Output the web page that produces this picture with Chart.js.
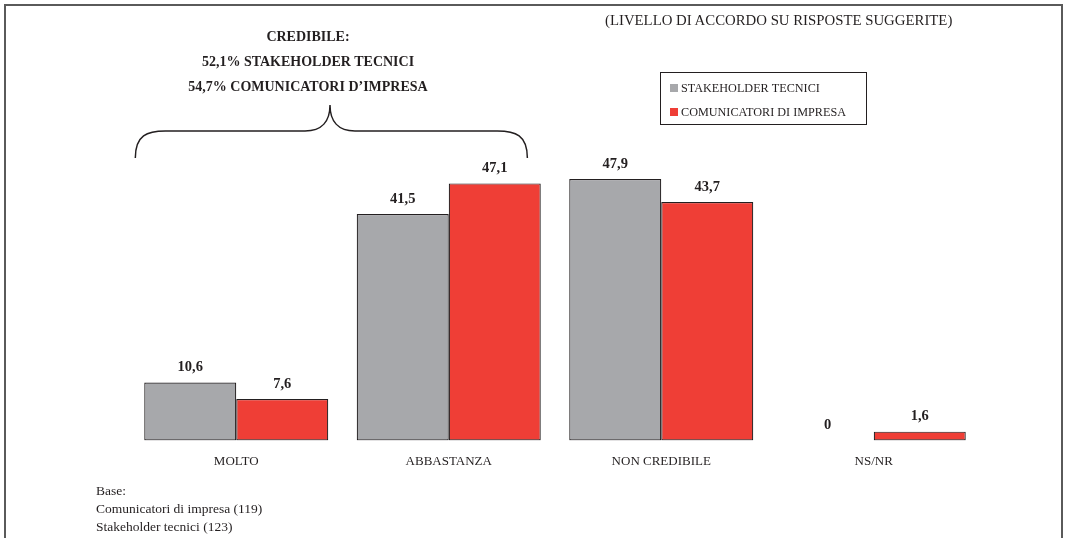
<!DOCTYPE html>
<html>
<head>
<meta charset="utf-8">
<script src="https://cdn.jsdelivr.net/npm/chart.js@4.4.1/dist/chart.umd.min.js"></script>
<style>
  html, body { margin: 0; padding: 0; background: #fff; }
  body { width: 1065px; height: 538px; position: relative; overflow: hidden; font-family: "Liberation Serif", "Times New Roman", serif; color: #231f20; }
  #frame { position: absolute; left: 4px; top: 4px; width: 1059px; height: 540px; border: 2px solid #5a5a5a; border-bottom: none; box-sizing: border-box; }
  #wrap { position: absolute; left: 0; top: 0; width: 1065px; height: 538px; }
  .note { position: absolute; white-space: nowrap; }
  .head { left: 160px; width: 296px; text-align: center; font-weight: bold; font-size: 14px; }
  .base { left: 96px; font-size: 13.5px; line-height: 18px; top: 482px; }
</style>
</head>
<body>
<div id="wrap"><canvas id="chart" width="1065" height="538"></canvas></div>
<div id="frame"></div>

<div class="note head" style="top:29px">CREDIBILE:</div>
<div class="note head" style="top:54px">52,1% STAKEHOLDER TECNICI</div>
<div class="note head" style="top:79px">54,7% COMUNICATORI D’IMPRESA</div>
<div class="note" style="left:605px; top:12px; font-size:14.8px">(LIVELLO DI ACCORDO SU RISPOSTE SUGGERITE)</div>
<div class="note base">Base:<br>Comunicatori di impresa (119)<br>Stakeholder tecnici (123)</div>

<script>
// ---- data ----
const categories = ['MOLTO', 'ABBASTANZA', 'NON CREDIBILE', 'NS/NR'];
const stakeholderTecnici = [10.6, 41.5, 47.9, 0];
const comunicatoriImpresa = [7.6, 47.1, 43.7, 1.6];
const seriesNames = ['STAKEHOLDER TECNICI', 'COMUNICATORI DI IMPRESA'];

const GREY = '#a7a8ab';
const RED = '#ef3e36';
const EDGE = '#231f20';

const fmt = v => String(v).replace('.', ',');

// value labels above every bar
const valueLabels = {
  id: 'valueLabels',
  afterDatasetsDraw(chart) {
    const ctx = chart.ctx;
    ctx.save();
    ctx.font = 'bold 14.5px "Liberation Serif"';
    ctx.fillStyle = '#231f20';
    ctx.textAlign = 'center';
    ctx.textBaseline = 'middle';
    chart.data.datasets.forEach((ds, i) => {
      chart.getDatasetMeta(i).data.forEach((bar, j) => {
        ctx.fillText(fmt(ds.data[j]), bar.x, bar.y - 15);
      });
    });
    ctx.restore();
  }
};

// boxed legend + brace over the "credibile" groups
const extras = {
  id: 'extras',
  afterDraw(chart) {
    const ctx = chart.ctx;
    ctx.save();
    // legend box
    ctx.strokeStyle = '#231f20';
    ctx.lineWidth = 1;
    ctx.strokeRect(660.5, 72.5, 206, 52);
    ctx.font = '12.2px "Liberation Serif"';
    ctx.textBaseline = 'middle';
    ctx.textAlign = 'left';
    chart.data.datasets.forEach((ds, i) => {
      const y = 88 + i * 24;
      ctx.fillStyle = ds.backgroundColor;
      ctx.fillRect(670, y - 4, 8, 8);
      ctx.fillStyle = '#231f20';
      ctx.fillText(ds.label, 681, y + 1);
    });

    // brace spanning MOLTO + ABBASTANZA
    const xs = chart.scales.x;
    const half = (xs.getPixelForValue(1) - xs.getPixelForValue(0)) / 2;
    const x0 = xs.getPixelForValue(0) - half * 0.95;
    const x1 = xs.getPixelForValue(1) + half * 0.74;
    const mid = 330, yEnd = 158, yBar = 131, yTip = 105;
    ctx.beginPath();
    ctx.lineWidth = 1.5;
    ctx.strokeStyle = '#231f20';
    ctx.moveTo(x0, yEnd);
    ctx.bezierCurveTo(x0, yBar + 4, x0 + 12, yBar, x0 + 30, yBar);
    ctx.lineTo(mid - 25, yBar);
    ctx.bezierCurveTo(mid - 8, yBar, mid, yBar - 10, mid, yTip);
    ctx.bezierCurveTo(mid, yBar - 10, mid + 8, yBar, mid + 25, yBar);
    ctx.lineTo(x1 - 30, yBar);
    ctx.bezierCurveTo(x1 - 12, yBar, x1, yBar + 4, x1, yEnd);
    ctx.stroke();
    ctx.restore();
  }
};

new Chart(document.getElementById('chart'), {
  type: 'bar',
  data: {
    labels: categories,
    datasets: [
      { label: seriesNames[0], data: stakeholderTecnici, backgroundColor: GREY, borderColor: EDGE,
        borderWidth: stakeholderTecnici.map(v => v > 0 ? 1.2 : 0), borderSkipped: false },
      { label: seriesNames[1], data: comunicatoriImpresa, backgroundColor: RED, borderColor: EDGE,
        borderWidth: comunicatoriImpresa.map(v => v > 0 ? 1.2 : 0), borderSkipped: false }
    ]
  },
  options: {
    responsive: false,
    animation: false,
    events: [],
    layout: { padding: { left: 130, right: 85, top: 113, bottom: 64 } },
    datasets: { bar: { barPercentage: 1, categoryPercentage: 0.866 } },
    plugins: { legend: { display: false }, tooltip: { enabled: false } },
    scales: {
      y: { display: false, min: 0, max: 60 },
      x: {
        grid: { display: false },
        border: { display: false },
        ticks: { color: '#231f20', padding: 5, font: { family: 'Liberation Serif', size: 13 } }
      }
    }
  },
  plugins: [valueLabels, extras]
});
</script>
</body>
</html>
